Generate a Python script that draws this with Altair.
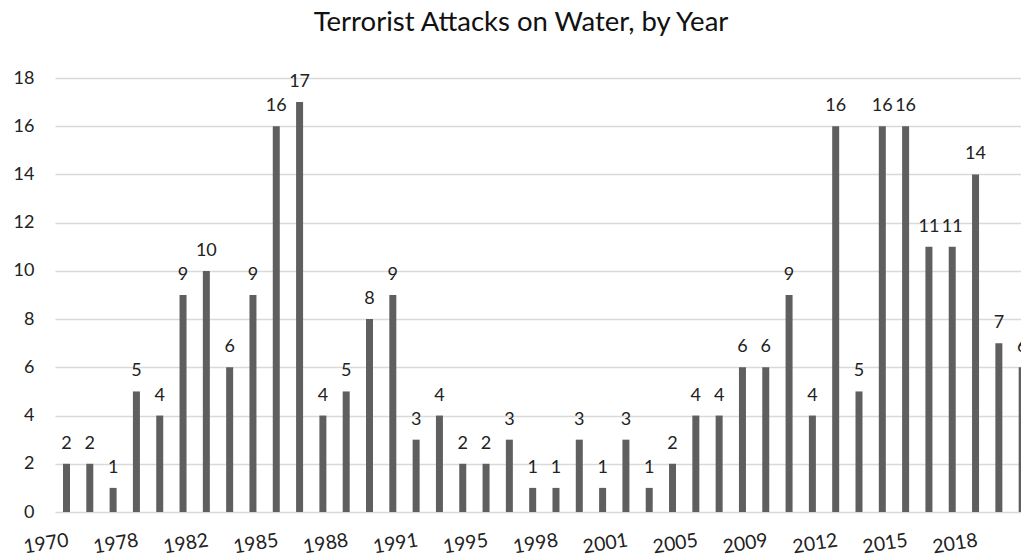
import json
import altair as alt
import pandas as pd

# Attacks per year (bars in category order)
counts = [2, 2, 1, 5, 4, 9, 10, 6, 9, 16, 17, 4, 5, 8, 9, 3, 4, 2, 2, 3, 1,
          1, 3, 1, 3, 1, 2, 4, 4, 6, 6, 9, 4, 16, 5, 16, 16, 11, 11, 14, 7, 6]
# Year labels shown on every third category
tick_years = ["1970", "1978", "1982", "1985", "1988", "1991", "1995",
              "1998", "2001", "2005", "2009", "2012", "2015", "2018"]
y_ticks = list(range(0, 20, 2))

positions = list(range(1, len(counts) + 1))
tick_positions = positions[::3]

df = pd.DataFrame({"pos": positions, "count": counts})

FONT = "Lato"
label_expr = json.dumps(tick_years) + "[floor((datum.value - 1) / 3)]"

x = alt.X(
    "pos:Q",
    scale=alt.Scale(domain=[0.507, 41.95], nice=False, zero=False, padding=0),
    axis=alt.Axis(
        values=tick_positions,
        labelExpr=label_expr,
        title=None,
        grid=False,
        ticks=False,
        domain=False,
        labelAngle=-9,
        labelAlign="right",
        labelBaseline="top",
        labelPadding=19,
        labelFontSize=19.5,
        labelColor="#222222",
        labelFlush=False,
        labelOverlap=False,
        labelBound=False,
    ),
)
y = alt.Y(
    "count:Q",
    scale=alt.Scale(domain=[0, 18], nice=False),
    axis=alt.Axis(
        values=y_ticks,
        title=None,
        grid=True,
        gridColor="#d9d9d9",
        gridWidth=1.5,
        ticks=False,
        domain=False,
        labelPadding=21,
        labelFontSize=18,
        labelColor="#222222",
    ),
)

bars = alt.Chart(df).mark_bar(size=7, color="#5f5f5f", clip=True).encode(x=x, y=y)
labels = alt.Chart(df).mark_text(
    dy=-15, baseline="alphabetic", fontSize=18, color="#222222", font=FONT
).encode(x="pos:Q", y="count:Q", text="count:Q")

chart = (
    alt.layer(bars, labels)
    .properties(
        width=966,
        height=434,
        title=alt.TitleParams(
            "Terrorist Attacks on Water, by Year",
            font=FONT,
            fontSize=27.5,
            fontWeight="normal",
            color="#111111",
            anchor="middle",
            dx=-17,
            offset=33,
        ),
        autosize=alt.AutoSizeParams(type="none"),
        padding={"left": 55, "top": 78, "right": 0, "bottom": 46},
    )
    .configure(font=FONT, background="white")
    .configure_view(stroke=None)
    .configure_axis(labelFont=FONT)
)

chart.save("out.html", embed_options={"renderer": "svg", "actions": False})
